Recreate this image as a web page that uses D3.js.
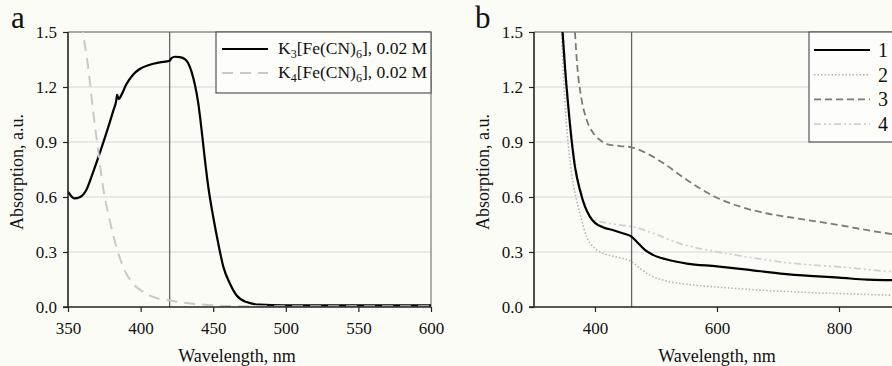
<!DOCTYPE html>
<html>
<head>
<meta charset="utf-8">
<script src="https://cdn.jsdelivr.net/npm/d3@7"></script>
<style>
  body { margin: 0; background: #fcfcf7; }
  svg { display: block; }
  text { font-family: "Liberation Serif", "Times New Roman", serif; fill: #111; }
</style>
</head>
<body>
<svg id="chart" width="892" height="366"></svg>
<script>
// panel a: K3[Fe(CN)6] and K4[Fe(CN)6], [wavelength nm, absorption]
var k3 = [[350,0.629],[354.6,0.592],[358,0.598],[362.6,0.638],[367,0.729],[371.8,0.838],[376.4,0.948],
  [381,1.066],[383.3,1.13],[383.8,1.157],[385,1.134],[386.8,1.157],[390,1.212],[394.8,1.267],[399.4,1.298],
  [406.3,1.321],[413.2,1.334],[420,1.343],[421.3,1.358],[423.6,1.365],[427,1.363],[430.5,1.352],[432.8,1.33],
  [435,1.285],[437.4,1.212],[439.7,1.112],[442,0.966],[444.3,0.802],[446.6,0.656],[450,0.492],[453.5,0.346],
  [457,0.219],[461.5,0.128],[466,0.064],[473,0.027],[482,0.013],[498,0.009],[533,0.009],[600,0.009]];
var k4 = [[358,1.65],[360.3,1.5],[363.8,1.312],[367.2,1.075],[370.7,0.857],[374.1,0.656],[378.7,0.474],
  [383.3,0.328],[389,0.2],[394.8,0.128],[401.7,0.082],[411,0.049],[420,0.036],[431.6,0.022],[450,0.009],
  [464,0.005],[487,0.004],[600,0.004]];

// panel b: samples 1-4
var s1 = [[345,1.6],[346.8,1.5],[350.7,1.312],[356.2,1.094],[361.6,0.911],[367.1,0.766],[375.3,0.638],[383.6,0.547],
  [391.8,0.492],[400,0.459],[413.7,0.434],[430.1,0.419],[446.6,0.401],[460.3,0.383],[471.2,0.346],[482.2,0.31],
  [495.9,0.283],[517.8,0.259],[550.7,0.237],[600,0.222],[649.3,0.204],[704.1,0.182],[758.9,0.168],[800,0.16],
  [846.6,0.149],[890.4,0.146],[950,0.14],[1000,0.135]];
var s2 = [[343,1.62],[345.2,1.5],[349,1.221],[354.5,0.948],[361.6,0.729],[369.9,0.583],[378.1,0.474],[386.3,0.383],
  [397.3,0.328],[413.7,0.292],[435.6,0.273],[460.3,0.246],[474,0.21],[490.4,0.173],[512.3,0.146],[550.7,0.124],
  [600,0.109],[676.7,0.091],[758.9,0.078],[841,0.069],[890.4,0.064],[1000,0.058]];
var s3 = [[365,1.62],[367.1,1.5],[371,1.312],[378.1,1.13],[386.3,1.021],[397.3,0.948],[408.2,0.911],[419.2,0.889],
  [441.1,0.878],[460.3,0.871],[484.9,0.838],[512.3,0.784],[550.7,0.693],[600,0.596],[638.4,0.547],[682.2,0.51],
  [731.5,0.483],[800,0.447],[846.6,0.419],[890.4,0.396],[1000,0.35]];
var s4 = [[346,1.62],[348,1.5],[352.3,1.276],[357.8,1.057],[364.4,0.857],[372.6,0.693],[380.8,0.583],[389,0.51],
  [400,0.474],[419.2,0.459],[441.1,0.447],[463,0.437],[495.9,0.401],[539.7,0.346],[600,0.301],[649.3,0.273],
  [704.1,0.246],[758.9,0.228],[800,0.219],[890.4,0.191],[1000,0.17]];

var yTicks = [0, 0.3, 0.6, 0.9, 1.2, 1.5];
var xTicksA = [350, 400, 450, 500, 550, 600];
var xTicksB = [400, 600, 800];
var markerA = 420, markerB = 460;

var legendA = [
  {sub1: "3", stroke: "#000", width: 2.2, dash: null},
  {sub1: "4", stroke: "#c9c9c9", width: 2, dash: "11,7"}
];
var legendB = [
  {label: "1", stroke: "#000", width: 2.2, dash: null},
  {label: "2", stroke: "#b3b3b3", width: 1.6, dash: "1.5,2"},
  {label: "3", stroke: "#7a7a7a", width: 1.8, dash: "7,4"},
  {label: "4", stroke: "#cfcfcf", width: 1.8, dash: "7,3,2,3,2,3"}
];

var svg = d3.select("#chart");
svg.append("rect").attr("width", 892).attr("height", 366).attr("fill", "#fcfcf7");

function drawPanel(opts) {
  var x = d3.scaleLinear().domain(opts.xdom).range([opts.left, opts.right]);
  var y = d3.scaleLinear().domain([0, 1.5]).range([307, 32]);
  var g = svg.append("g");

  // gridlines
  g.selectAll(".grid").data(yTicks.slice(1)).enter().append("line")
    .attr("x1", opts.left).attr("x2", opts.right)
    .attr("y1", function(d) { return y(d) }).attr("y2", function(d) { return y(d) })
    .attr("stroke", function(d) { return d == 1.5 ? "#555" : "#d6d6d6" })
    .attr("stroke-width", 1);
  if (opts.rightBorder) {
    g.append("line").attr("x1", opts.right).attr("x2", opts.right).attr("y1", 32).attr("y2", 307)
      .attr("stroke", "#777").attr("stroke-width", 1.2);
  }

  var clipId = "clip" + opts.name;
  svg.append("clipPath").attr("id", clipId).append("rect")
    .attr("x", opts.left).attr("y", 32).attr("width", opts.right - opts.left).attr("height", 275);

  // marker line
  g.append("line").attr("x1", x(opts.marker)).attr("x2", x(opts.marker)).attr("y1", 32).attr("y2", 307)
    .attr("stroke", "#666").attr("stroke-width", 1.3);

  var line = d3.line().x(function(d) { return x(d[0]) }).y(function(d) { return y(d[1]) })
    .curve(d3.curveMonotoneX);
  g.append("g").attr("clip-path", "url(#" + clipId + ")")
    .selectAll("path").data(opts.series).enter().append("path")
    .attr("d", function(s) { return line(s.data) })
    .attr("fill", "none")
    .attr("stroke", function(s) { return s.stroke })
    .attr("stroke-width", function(s) { return s.width })
    .attr("stroke-dasharray", function(s) { return s.dash });

  // axes
  var ya = g.append("g").attr("transform", "translate(" + opts.left + ",0)")
    .call(d3.axisLeft(y).tickValues(yTicks).tickFormat(d3.format(".1f")).tickSize(5).tickPadding(6));
  var xa = g.append("g").attr("transform", "translate(0,307)")
    .call(d3.axisBottom(x).tickValues(opts.xticks).tickFormat(d3.format("d")).tickSize(5).tickPadding(10));
  [ya, xa].forEach(function(a) {
    a.select(".domain").attr("stroke", "#222").attr("stroke-width", 1.6);
    a.selectAll(".tick line").attr("stroke", "#222").attr("stroke-width", 1.2);
    a.selectAll("text").attr("font-size", 17).attr("font-family", "Liberation Serif").attr("fill", "#111");
  });
  ya.select(".domain").attr("d", "M0,307V32");
  xa.select(".domain").attr("d", "M" + (opts.left - 5) + ",0H" + opts.right);

  g.append("text").attr("x", opts.labelX).attr("y", 28)
    .attr("font-size", 31).text(opts.name);
  g.append("text").attr("transform", "translate(" + (opts.left - 45) + ",172) rotate(-90)")
    .attr("text-anchor", "middle").attr("font-size", 18).text("Absorption, a.u.");
  g.append("text").attr("x", opts.titleX).attr("y", 362)
    .attr("text-anchor", "middle").attr("font-size", 18).text("Wavelength, nm");
  return g;
}

drawPanel({
  name: "a", xdom: [350, 600], left: 68, right: 431, marker: markerA, xticks: xTicksA,
  rightBorder: true, titleX: 237, labelX: 11,
  series: [
    {data: k3, stroke: "#000", width: 2.2, dash: null},
    {data: k4, stroke: "#c9c9c9", width: 2, dash: "11,7"}
  ]
});

drawPanel({
  name: "b", xdom: [300, 1000], left: 534, right: 961, marker: markerB, xticks: xTicksB,
  rightBorder: false, titleX: 717, labelX: 475,
  series: [
    {data: s4, stroke: legendB[3].stroke, width: legendB[3].width, dash: legendB[3].dash},
    {data: s2, stroke: legendB[1].stroke, width: legendB[1].width, dash: legendB[1].dash},
    {data: s3, stroke: legendB[2].stroke, width: legendB[2].width, dash: legendB[2].dash},
    {data: s1, stroke: legendB[0].stroke, width: legendB[0].width, dash: legendB[0].dash}
  ]
});

// legend a
var la = svg.append("g");
la.append("rect").attr("x", 216).attr("y", 32).attr("width", 215).attr("height", 61)
  .attr("fill", "#fdfdf9").attr("stroke", "#555").attr("stroke-width", 1.2);
legendA.forEach(function(d, i) {
  var yy = 49 + i * 24;
  la.append("line").attr("x1", 222).attr("x2", 268).attr("y1", yy).attr("y2", yy)
    .attr("stroke", d.stroke).attr("stroke-width", d.width).attr("stroke-dasharray", d.dash);
  var t = la.append("text").attr("x", 278).attr("y", yy + 5).attr("font-size", 17.5);
  t.append("tspan").text("K");
  t.append("tspan").attr("font-size", 12).attr("dy", 4).text(d.sub1);
  t.append("tspan").attr("dy", -4).text("[Fe(CN)");
  t.append("tspan").attr("font-size", 12).attr("dy", 4).text("6");
  t.append("tspan").attr("dy", -4).text("], 0.02 M");
});

// legend b
var lb = svg.append("g");
lb.append("rect").attr("x", 809).attr("y", 32).attr("width", 120).attr("height", 110)
  .attr("fill", "#fdfdf9").attr("stroke", "#555").attr("stroke-width", 1.2);
legendB.forEach(function(d, i) {
  var yy = 50 + i * 24.7;
  lb.append("line").attr("x1", 814).attr("x2", 870).attr("y1", yy).attr("y2", yy)
    .attr("stroke", d.stroke).attr("stroke-width", d.width).attr("stroke-dasharray", d.dash);
  lb.append("text").attr("x", 878).attr("y", yy + 7).attr("font-size", 20).text(d.label);
});
</script>
</body>
</html>
